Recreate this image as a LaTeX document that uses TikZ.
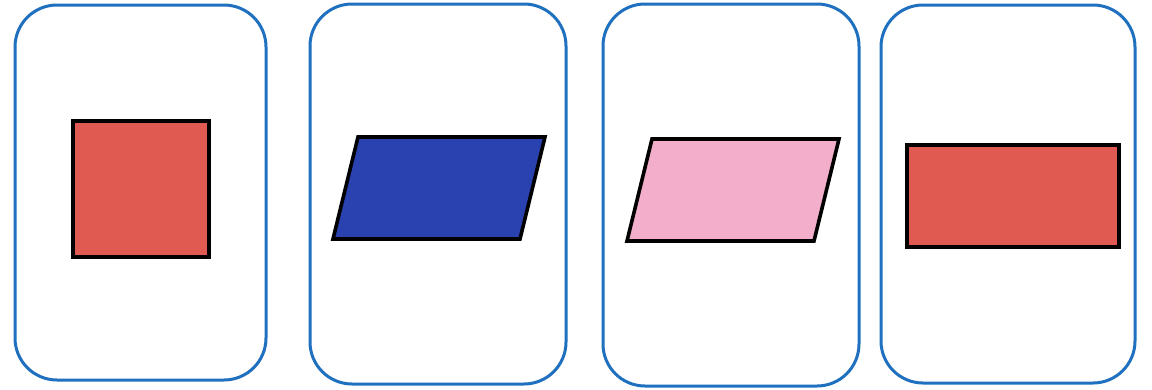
\documentclass[tikz,border=0pt]{standalone}
\definecolor{cardblue}{RGB}{31,112,190}
\definecolor{shapered}{RGB}{224,90,82}
\definecolor{shapeblue}{RGB}{42,66,176}
\definecolor{shapepink}{RGB}{243,174,203}
\tikzset{
  card/.style={draw=cardblue, line width=3pt, rounded corners=42pt, fill=white},
  shp/.style={draw=black, line width=3.6pt, line join=miter}
}
\begin{document}
\begin{tikzpicture}[x=1pt,y=-1pt]
\useasboundingbox (0,0) rectangle (1152,389);
% cards
\draw[card] (15,5) rectangle (266,380);
\draw[card] (310,4) rectangle (566,384);
\draw[card] (603,4) rectangle (859,386);
\draw[card] (881,5) rectangle (1135,383);
% shapes
\draw[shp, fill=shapered] (73,121) rectangle (209,257);
\draw[shp, fill=shapeblue] (358,137) -- (545,137) -- (520,239) -- (333,239) -- cycle;
\draw[shp, fill=shapepink] (652,139) -- (839,139) -- (814,241) -- (627,241) -- cycle;
\draw[shp, fill=shapered] (907,145) rectangle (1119,247);
\end{tikzpicture}
\end{document}
